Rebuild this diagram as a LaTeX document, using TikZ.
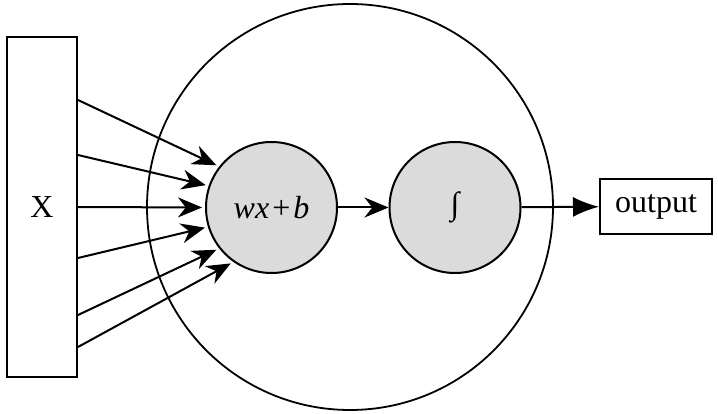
\documentclass[tikz,border=0pt]{standalone}
\usepackage{fontspec}
\setmainfont{Liberation Serif}
\usetikzlibrary{arrows.meta}

\begin{document}
\begin{tikzpicture}[x=1pt, y=-1pt,
  every node/.style={font=\fontsize{32}{36}\selectfont},
  inbox/.style={draw, line width=2pt, rectangle, minimum width=70pt,
                minimum height=340pt, inner sep=0pt},
  unit/.style={draw, line width=2pt, circle, fill=black!14,
               minimum size=131pt, inner sep=0pt},
  cell/.style={draw, line width=1.8pt, circle, minimum size=406pt, inner sep=0pt},
  outbox/.style={draw, line width=2pt, rectangle, minimum width=112pt,
                 minimum height=55pt, inner sep=0pt},
  ar/.style={-{Stealth[length=24pt, width=20pt]}, line width=2pt},
  arl/.style={-{Latex[length=26pt, width=20pt]}, line width=2pt}]

\useasboundingbox (0,0) rectangle (718,414);

%% ---- nodes ----
\node[cell]   (neuron) at (350,207)   {};
\node[inbox]  (X)      at (42,207)    {X};
\node[unit]   (lin)    at (271.5,207.5) {\textit{wx}\kern3pt+\kern3pt\textit{b}};
\node[unit]   (act)    at (455,207.5) {∫};
\node[outbox] (out)    at (656,206.5) {output};

%% ---- inputs ----
\foreach \y/\a [count=\i] in {100/142, 155/161, 207/180, 258/197, 315/218, 347/235} {
  \coordinate (in\i) at (X.east |- 0,\y);
  \draw[ar, shorten >=3pt] (in\i) -- (lin.\a);
}

%% ---- forward ----
\draw[ar]  (lin) -- (act);
\draw[arl] (act) -- (out);
\end{tikzpicture}
\end{document}
